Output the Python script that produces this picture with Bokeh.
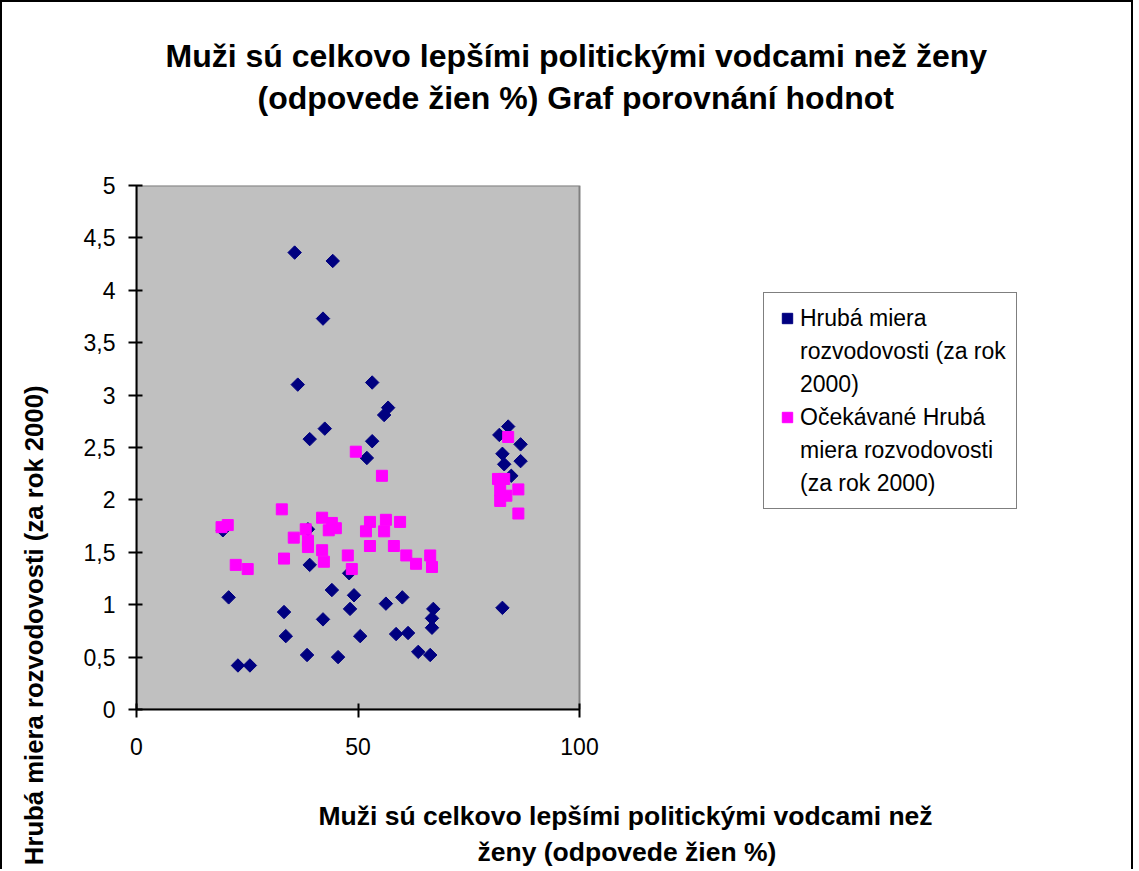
import numpy as np
from bokeh.plotting import figure
from bokeh.models import Range1d, FixedTicker, Legend, LegendItem, Title
from bokeh.embed import file_html
from bokeh.resources import INLINE

# ---- data ----
blue_x = [19.5, 20.8, 22.9, 25.6, 33.3, 33.7, 35.7, 36.4, 38.5, 39.1, 38.7, 39.1, 42.1, 42.5, 42.1,
          44.3, 44.1, 45.5, 48.0, 48.2, 49.1, 50.5, 52.0, 53.2, 53.2, 55.9, 56.8, 56.3, 58.6, 60.0,
          61.3, 63.6, 66.3, 67.0, 66.7, 66.7, 82.6, 83.9, 81.9, 86.7, 82.6, 86.7, 83.0, 84.6]
blue_y = [1.71, 1.07, 0.42, 0.42, 0.93, 0.70, 4.36, 3.10, 0.52, 2.58, 1.72, 1.38, 3.73, 2.68, 0.86,
          4.28, 1.14, 0.50, 1.30, 0.96, 1.09, 0.70, 2.40, 2.56, 3.12, 2.81, 2.88, 1.01, 0.72, 1.07,
          0.73, 0.55, 0.52, 0.96, 0.87, 0.78, 0.97, 2.70, 2.62, 2.53, 2.44, 2.37, 2.34, 2.23]
pink_x = [19.2, 20.6, 22.4, 25.1, 32.8, 33.3, 35.5, 38.2, 38.7, 38.7, 41.9, 44.1, 43.4, 45.0, 41.9,
          42.3, 47.7, 48.6, 49.5, 55.4, 52.7, 51.8, 56.3, 55.9, 59.5, 52.7, 58.1, 60.9, 63.1, 66.3,
          66.7, 83.9, 81.6, 83.0, 82.1, 83.5, 82.1, 86.2, 86.2]
pink_y = [1.74, 1.76, 1.38, 1.34, 1.91, 1.44, 1.64, 1.72, 1.61, 1.55, 1.83, 1.78, 1.71, 1.73, 1.52,
          1.41, 1.47, 1.34, 2.46, 2.23, 1.79, 1.70, 1.81, 1.70, 1.79, 1.56, 1.56, 1.47, 1.39, 1.47,
          1.36, 2.60, 2.20, 2.20, 2.09, 2.04, 1.99, 2.10, 1.87]

y_ticks = [0, 0.5, 1, 1.5, 2, 2.5, 3, 3.5, 4, 4.5, 5]
y_tick_labels = ["0", "0,5", "1", "1,5", "2", "2,5", "3", "3,5", "4", "4,5", "5"]
x_ticks = [0, 50, 100]
x_tick_labels = ["0", "50", "100"]

title_lines = ["Muži sú celkovo lepšími politickými vodcami než ženy",
               "(odpovede žien %) Graf porovnání hodnot"]
xlabel_lines = ["Muži sú celkovo lepšími politickými vodcami než",
                "ženy (odpovede žien %)"]
ylabel = "Hrubá miera rozvodovosti (za rok 2000)"
series1_lines = ["Hrubá miera", "rozvodovosti (za rok", "2000)"]
series2_lines = ["Očekávané Hrubá", "miera rozvodovosti", "(za rok 2000)"]

FONT = "Liberation Sans"

W, H = 1133, 869
FL, FT, FB = 134, 183, 707     # frame edges inside the canvas
PLOT_R = 577                   # right edge of the grey plot area
x0, x1 = x_ticks[0], x_ticks[-1]
y0, y1 = y_ticks[0], y_ticks[-1]
# the frame reaches to the canvas' right edge so that the legend can live inside it
x_max = x0 + (x1 - x0) * (W - FL) / (PLOT_R - FL)

p = figure(width=W, height=H, output_backend="svg", toolbar_location=None,
           x_range=Range1d(x0, x_max), y_range=Range1d(y0, y1),
           min_border_left=FL, min_border_right=0,
           min_border_top=FT, min_border_bottom=H - FB,
           background_fill_color="white", border_fill_color="white",
           styles={"border-top": "2px solid black", "border-left": "2px solid black",
                   "border-right": "2px solid black"})
p.grid.visible = False
p.outline_line_color = None

# grey plot area
p.quad(left=x0, right=x1, bottom=y0, top=y1, fill_color="#C0C0C0",
       line_color="#808080", line_width=2)

for ax in (p.xaxis[0], p.yaxis[0]):
    ax.axis_line_color = "black"
    ax.axis_line_width = 2
    ax.major_tick_line_color = "black"
    ax.major_tick_line_width = 2
    ax.major_tick_in = 6
    ax.major_tick_out = 8
    ax.minor_tick_line_color = None
    ax.major_label_text_font = FONT
    ax.major_label_text_font_size = "23px"
    ax.major_label_text_color = "black"

p.yaxis[0].ticker = FixedTicker(ticks=y_ticks)
p.yaxis[0].major_label_overrides = {t: l for t, l in zip(y_ticks, y_tick_labels)}
p.yaxis[0].major_label_standoff = 13
p.xaxis[0].ticker = FixedTicker(ticks=x_ticks)
p.xaxis[0].major_label_overrides = {t: l for t, l in zip(x_ticks, x_tick_labels)}
p.xaxis[0].major_label_standoff = 20
p.xaxis[0].bounds = (x0, x1)

r1 = p.scatter(blue_x, blue_y, marker="square", size=9.5, angle=np.pi / 4,
               fill_color="#000080", line_color="#000080")
r2 = p.scatter(pink_x, pink_y, marker="square", size=11,
               fill_color="#FF00FF", line_color="#FF00FF")
# empty, invisible renderer used for the continuation lines of the legend labels
blank = p.scatter(x=[], y=[], size=1, fill_alpha=0, line_alpha=0)

items = [LegendItem(label=series1_lines[0], renderers=[r1])]
items += [LegendItem(label=t, renderers=[blank]) for t in series1_lines[1:]]
items += [LegendItem(label=series2_lines[0], renderers=[r2])]
items += [LegendItem(label=t, renderers=[blank]) for t in series2_lines[1:]]

legend = Legend(items=items, location=(627, 200))
legend.label_text_font = FONT
legend.label_text_font_size = "23px"
legend.label_text_color = "black"
legend.padding = 10
legend.spacing = 3
legend.glyph_width = 26
legend.glyph_height = 30
legend.label_height = 30
legend.label_standoff = 0
legend.border_line_color = "black"
legend.border_line_width = 1.5
legend.background_fill_color = "white"
legend.background_fill_alpha = 1
p.add_layout(legend, "center")


def spacer(standoff):
    return Title(text=" ", text_font_size="10px", standoff=standoff)


def bold_title(txt, size, offset, standoff, valign="bottom", align="left"):
    return Title(text=txt, align=align, offset=offset, standoff=standoff,
                 vertical_align=valign, text_font=FONT, text_font_size=size,
                 text_font_style="bold", text_color="black")


# above: first added sits nearest to the frame
p.add_layout(spacer(55), "above")
p.add_layout(bold_title(title_lines[1], "32px", 121, 4), "above")
p.add_layout(bold_title(title_lines[0], "32px", 29, 4), "above")
p.add_layout(spacer(18), "above")

# below: axis first, then spacer, then the two label lines
p.add_layout(spacer(26), "below")
p.add_layout(bold_title(xlabel_lines[0], "26.5px", 182, 4), "below")
p.add_layout(bold_title(xlabel_lines[1], "26.5px", 341, 4), "below")

# left: axis, spacer, rotated label
p.add_layout(spacer(2), "left")
p.add_layout(bold_title(ylabel, "25.7px", 200, 32, valign="top", align="right"), "left")

open("out.html", "w").write(file_html(p, INLINE))
